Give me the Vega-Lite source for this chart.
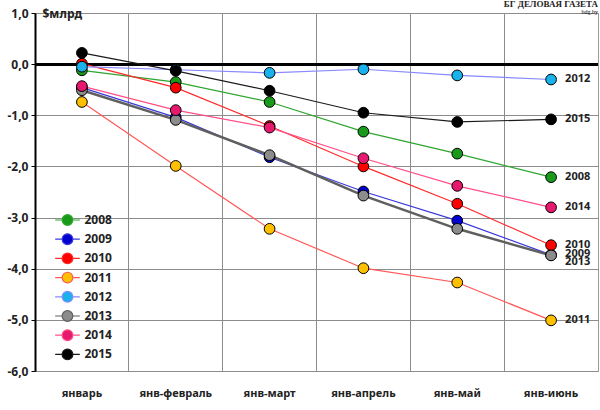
{
  "$schema": "https://vega.github.io/schema/vega-lite/v6.json",
  "autosize": {"type": "none"},
  "width": 563,
  "height": 358,
  "padding": {"left": 35, "top": 13, "right": 2, "bottom": 39},
  "background": "white",
  "title": {
    "text": "БГ ДЕЛОВАЯ ГАЗЕТА",
    "subtitle": "bdg.by",
    "anchor": "end",
    "frame": "group",
    "font": "Liberation Serif",
    "fontSize": 9,
    "fontWeight": "bold",
    "subtitleFont": "Liberation Serif",
    "subtitleFontSize": 6,
    "subtitlePadding": 0,
    "offset": -8,
    "color": "#222"
  },
  "data": {
    "values": [
      {"year": "2008", "period": "январь", "value": -0.12},
      {"year": "2008", "period": "янв-февраль", "value": -0.35},
      {"year": "2008", "period": "янв-март", "value": -0.74},
      {"year": "2008", "period": "янв-апрель", "value": -1.32},
      {"year": "2008", "period": "янв-май", "value": -1.75},
      {"year": "2008", "period": "янв-июнь", "value": -2.21},
      {"year": "2009", "period": "январь", "value": -0.46},
      {"year": "2009", "period": "янв-февраль", "value": -1.04},
      {"year": "2009", "period": "янв-март", "value": -1.82},
      {"year": "2009", "period": "янв-апрель", "value": -2.49},
      {"year": "2009", "period": "янв-май", "value": -3.06},
      {"year": "2009", "period": "янв-июнь", "value": -3.73},
      {"year": "2010", "period": "январь", "value": 0.01},
      {"year": "2010", "period": "янв-февраль", "value": -0.46},
      {"year": "2010", "period": "янв-март", "value": -1.21},
      {"year": "2010", "period": "янв-апрель", "value": -2.0},
      {"year": "2010", "period": "янв-май", "value": -2.73},
      {"year": "2010", "period": "янв-июнь", "value": -3.54},
      {"year": "2011", "period": "январь", "value": -0.74},
      {"year": "2011", "period": "янв-февраль", "value": -1.99},
      {"year": "2011", "period": "янв-март", "value": -3.22},
      {"year": "2011", "period": "янв-апрель", "value": -3.99},
      {"year": "2011", "period": "янв-май", "value": -4.27},
      {"year": "2011", "period": "янв-июнь", "value": -5.01},
      {"year": "2012", "period": "январь", "value": -0.05},
      {"year": "2012", "period": "янв-февраль", "value": -0.11},
      {"year": "2012", "period": "янв-март", "value": -0.17},
      {"year": "2012", "period": "янв-апрель", "value": -0.1},
      {"year": "2012", "period": "янв-май", "value": -0.22},
      {"year": "2012", "period": "янв-июнь", "value": -0.3},
      {"year": "2013", "period": "январь", "value": -0.51},
      {"year": "2013", "period": "янв-февраль", "value": -1.09},
      {"year": "2013", "period": "янв-март", "value": -1.78},
      {"year": "2013", "period": "янв-апрель", "value": -2.57},
      {"year": "2013", "period": "янв-май", "value": -3.22},
      {"year": "2013", "period": "янв-июнь", "value": -3.74},
      {"year": "2014", "period": "январь", "value": -0.43},
      {"year": "2014", "period": "янв-февраль", "value": -0.9},
      {"year": "2014", "period": "янв-март", "value": -1.24},
      {"year": "2014", "period": "янв-апрель", "value": -1.84},
      {"year": "2014", "period": "янв-май", "value": -2.38},
      {"year": "2014", "period": "янв-июнь", "value": -2.8},
      {"year": "2015", "period": "январь", "value": 0.22},
      {"year": "2015", "period": "янв-февраль", "value": -0.13},
      {"year": "2015", "period": "янв-март", "value": -0.52},
      {"year": "2015", "period": "янв-апрель", "value": -0.95},
      {"year": "2015", "period": "янв-май", "value": -1.13},
      {"year": "2015", "period": "янв-июнь", "value": -1.08}
    ]
  },
  "encoding": {
    "x": {
      "field": "period",
      "type": "nominal",
      "sort": null,
      "scale": {"type": "band", "paddingInner": 0, "paddingOuter": 0},
      "axis": {
        "title": null,
        "bandPosition": 0,
        "ticks": false,
        "domain": false,
        "grid": true,
        "gridColor": "#8c8c8c",
        "labelPadding": 16,
        "labelAngle": 0,
        "labelFont": "Noto Sans",
        "labelFontSize": 11,
        "labelFontWeight": "bold",
        "labelColor": "#222"
      }
    },
    "y": {
      "field": "value",
      "type": "quantitative",
      "scale": {"domain": [-6, 1], "nice": false, "zero": false},
      "axis": {
        "values": [-6, -5, -4, -3, -2, -1, 0, 1],
        "labelExpr": "datum.value < 0 ? '-' + replace(format(-datum.value, '.1f'), '.', ',') : replace(format(datum.value, '.1f'), '.', ',')",
        "title": "$млрд",
        "titleAngle": 0,
        "titleX": 7,
        "titleY": 0,
        "titleAlign": "left",
        "titleBaseline": "middle",
        "titleFont": "Noto Sans",
        "titleFontSize": 12,
        "titleFontWeight": "bold",
        "titleColor": "#222",
        "grid": true,
        "gridColor": "#8c8c8c",
        "domainColor": "black",
        "domainWidth": 2,
        "tickColor": "black",
        "tickSize": 4,
        "labelPadding": 3,
        "labelFont": "Noto Sans",
        "labelFontSize": 12,
        "labelFontWeight": "bold",
        "labelColor": "#222"
      }
    }
  },
  "layer": [
    {
      "mark": {"type": "rule", "color": "black", "strokeWidth": 2},
      "encoding": {"y": {"datum": 0}, "x": {}}
    },
    {
      "mark": {"type": "line"},
      "encoding": {
        "stroke": {
          "field": "year",
          "type": "nominal",
          "scale": {
            "domain": ["2008", "2009", "2010", "2011", "2012", "2013", "2014", "2015"],
            "range": ["#2ea52e", "#3a3adc", "#ff2a2a", "#ff5858", "#8888ff", "#5f5f5f", "#ff4f86", "#1a1a1a"]
          },
          "legend": {
            "title": null,
            "orient": "none",
            "legendX": 26.5,
            "legendY": 201,
            "symbolType": "M-2.3,0L-1,0M1,0L2.3,0M-1,0A1,1 0 1,0 1,0A1,1 0 1,0 -1,0",
            "symbolSize": 115,
            "symbolStrokeWidth": 1.2,
            "symbolOpacity": 1,
            "labelOffset": 11,
            "labelFont": "Noto Sans",
            "labelFontSize": 12,
            "labelFontWeight": "bold",
            "labelColor": "#222",
            "rowPadding": 3.2
          }
        },
        "strokeWidth": {
          "condition": {"test": "datum.year === '2013'", "value": 2.5},
          "value": 1.2
        }
      }
    },
    {
      "mark": {"type": "point", "filled": true, "size": 115, "stroke": "black", "strokeWidth": 1, "opacity": 1},
      "encoding": {
        "fill": {
          "field": "year",
          "type": "nominal",
          "scale": {
            "domain": ["2008", "2009", "2010", "2011", "2012", "2013", "2014", "2015"],
            "range": ["#1a9a1a", "#0000d0", "#ff0000", "#ffc000", "#1ab2ea", "#8c8c8c", "#e6196e", "#000000"]
          },
          "legend": {
            "title": null,
            "orient": "none",
            "legendX": 26.5,
            "legendY": 201,
            "symbolType": "M-2.3,0L-1,0M1,0L2.3,0M-1,0A1,1 0 1,0 1,0A1,1 0 1,0 -1,0",
            "symbolSize": 115,
            "symbolStrokeWidth": 1.2,
            "symbolOpacity": 1,
            "labelOffset": 11,
            "labelFont": "Noto Sans",
            "labelFontSize": 12,
            "labelFontWeight": "bold",
            "labelColor": "#222",
            "rowPadding": 3.2
          }
        }
      }
    },
    {
      "transform": [{"filter": "datum.period === 'янв-июнь' && datum.year !== '2013' && datum.year !== '2009'"}],
      "mark": {"type": "text", "align": "left", "baseline": "middle", "dx": 14, "font": "Noto Sans", "fontSize": 11, "fontWeight": "bold", "color": "#222"},
      "encoding": {"text": {"field": "year"}}
    },
    {
      "transform": [{"filter": "datum.period === 'янв-июнь' && datum.year === '2009'"}],
      "mark": {"type": "text", "align": "left", "baseline": "middle", "dx": 14, "dy": -1, "font": "Noto Sans", "fontSize": 11, "fontWeight": "bold", "color": "#222"},
      "encoding": {"text": {"field": "year"}}
    },
    {
      "transform": [{"filter": "datum.period === 'янв-июнь' && datum.year === '2013'"}],
      "mark": {"type": "text", "align": "left", "baseline": "middle", "dx": 14, "dy": 7, "font": "Noto Sans", "fontSize": 11, "fontWeight": "bold", "color": "#222"},
      "encoding": {"text": {"field": "year"}}
    }
  ],
  "config": {
    "view": {"stroke": "#999"}
  }
}
